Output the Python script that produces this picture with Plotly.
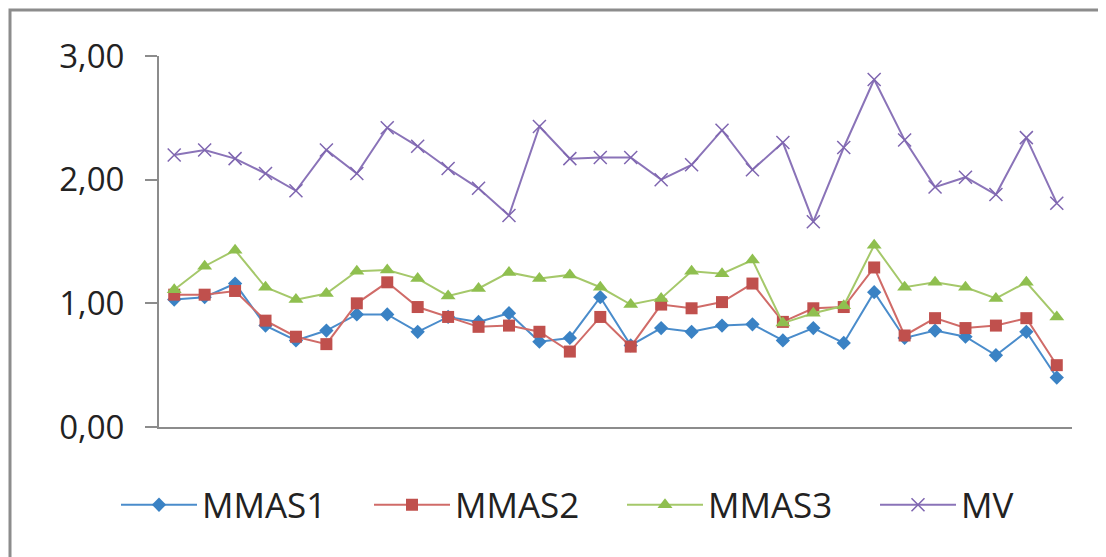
import plotly.graph_objects as go

categories = [str(i) for i in range(1, 31)]
mmas1 = [1.03, 1.05, 1.16, 0.82, 0.70, 0.78, 0.91, 0.91, 0.77, 0.89,
         0.85, 0.92, 0.69, 0.72, 1.05, 0.66, 0.80, 0.77, 0.82, 0.83,
         0.70, 0.80, 0.68, 1.09, 0.72, 0.78, 0.73, 0.58, 0.77, 0.40]
mmas2 = [1.07, 1.07, 1.10, 0.86, 0.73, 0.67, 1.00, 1.17, 0.97, 0.89,
         0.81, 0.82, 0.77, 0.61, 0.89, 0.65, 0.99, 0.96, 1.01, 1.16,
         0.85, 0.96, 0.97, 1.29, 0.74, 0.88, 0.80, 0.82, 0.88, 0.50]
mmas3 = [1.11, 1.30, 1.43, 1.13, 1.03, 1.08, 1.26, 1.27, 1.20, 1.06,
         1.12, 1.25, 1.20, 1.23, 1.13, 0.99, 1.04, 1.26, 1.24, 1.35,
         0.84, 0.92, 0.98, 1.47, 1.13, 1.17, 1.13, 1.04, 1.17, 0.89]
mv = [2.20, 2.24, 2.17, 2.05, 1.91, 2.24, 2.05, 2.42, 2.27, 2.09,
      1.93, 1.71, 2.43, 2.17, 2.18, 2.18, 2.00, 2.12, 2.40, 2.08,
      2.30, 1.66, 2.26, 2.81, 2.32, 1.94, 2.02, 1.88, 2.34, 1.81]
y_ticks = [0, 1, 2, 3]

series = [
    ("MMAS1", mmas1, "#4a8ccb", "#3a82c4", "diamond", 11),
    ("MMAS2", mmas2, "#d06b68", "#c0504d", "square", 12),
    ("MMAS3", mmas3, "#a5c86a", "#8fbf4f", "triangle-up", 13),
]

fig = go.Figure()
for name, vals, lc, mc, sym, sz in series:
    fig.add_trace(go.Scatter(
        x=categories, y=vals, name=name, mode="lines+markers",
        line=dict(color=lc, width=2),
        marker=dict(symbol=sym, size=sz, color=mc),
    ))
fig.add_trace(go.Scatter(
    x=categories, y=mv, name="MV", mode="lines+markers",
    line=dict(color="#8a73b8", width=2),
    marker=dict(symbol="x-thin-open", size=13, color="#7f66b0",
                line=dict(color="#7f66b0", width=1.5)),
))

# page body has an 8px default margin; figure sized to fill the rest
OFF = 8
W, H = 1106 - OFF, 557 - OFF
L, R, T, B = 159 - OFF, 34, 56 - OFF, 130
pw, ph = W - L - R, H - T - B

def px2paper_x(px):  # px in viewport coords
    return (px - OFF - L) / pw

def px2paper_y(py):
    return (H - B - (py - OFF)) / ph

fig.add_shape(type="rect", xref="paper", yref="paper",
              x0=px2paper_x(10), x1=px2paper_x(1130),
              y0=px2paper_y(590), y1=px2paper_y(10),
              line=dict(color="#8c8c8c", width=3), layer="below")

fig.update_layout(
    width=W, height=H,
    margin=dict(l=L, r=R, t=T, b=B, autoexpand=False),
    paper_bgcolor="white", plot_bgcolor="white",
    separators=",.",
    font=dict(family="Open Sans", color="#222222"),
    showlegend=True,
    legend=dict(orientation="h", x=px2paper_x(116), xanchor="left",
                y=px2paper_y(505), yanchor="middle",
                font=dict(size=35, family="Open Sans", color="#222222"),
                itemwidth=76, entrywidth=162, entrywidthmode="pixels",
                bgcolor="rgba(0,0,0,0)"),
)
fig.update_xaxes(type="category", range=[-0.5, 29.5], showgrid=False,
                 showline=True, linecolor="#8c8c8c", linewidth=2,
                 showticklabels=False, ticks="", zeroline=False,
                 fixedrange=True)
fig.update_yaxes(range=[0, 3], tickvals=y_ticks, tickformat=".2f",
                 showgrid=False, showline=True, linecolor="#8c8c8c",
                 linewidth=2, ticks="outside", ticklen=12, tickwidth=2,
                 tickcolor="#8c8c8c", ticklabelstandoff=14,
                 tickfont=dict(size=33, family="Open Sans", color="#222222"),
                 zeroline=False, fixedrange=True)

fig.write_html("out.html")
